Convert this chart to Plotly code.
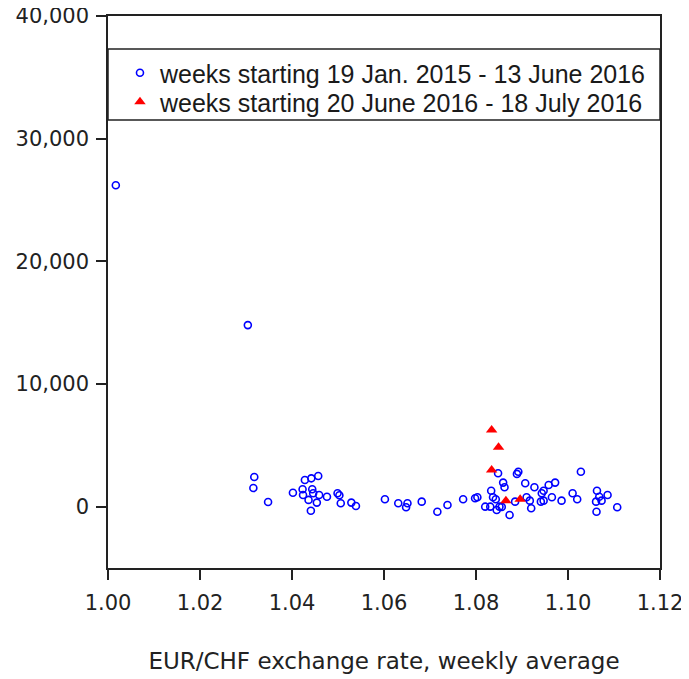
import plotly.graph_objects as go

# Blue series: weeks starting 19 Jan. 2015 - 13 June 2016
blue_x = [1.0017, 1.0304, 1.0318, 1.0316, 1.0348, 1.0402, 1.0428, 1.0442, 1.0457, 1.0423,
          1.0444, 1.0424, 1.0446, 1.0459, 1.0436, 1.0454, 1.0441, 1.0476, 1.0499, 1.0503,
          1.0506, 1.0529, 1.0539, 1.0602, 1.0631, 1.0651, 1.0648, 1.0682, 1.0716, 1.0738,
          1.0772, 1.0798, 1.0803, 1.0833, 1.0848, 1.0820, 1.0831, 1.0837, 1.0851, 1.0845,
          1.0859, 1.0862, 1.0892, 1.0889, 1.0907, 1.0927, 1.0910, 1.0917, 1.0920, 1.0873,
          1.0885, 1.0943, 1.0947, 1.0958, 1.0972, 1.0947, 1.0965, 1.0986, 1.1028, 1.1010,
          1.1020, 1.1063, 1.1068, 1.1061, 1.1073, 1.1086, 1.1062, 1.1107, 1.0843, 1.0856,
          1.0941]
blue_y = [26200, 14800, 2420, 1520, 380, 1140, 2180, 2310, 2500, 1420,
          1420, 950, 1090, 950, 550, 330, -330, 810, 1090, 930,
          280, 330, 60, 600, 280, 280, -50, 410, -410, 140,
          600, 690, 770, 1300, 2720, 0, 0, 770, 0, -270,
          1960, 1580, 2850, 2670, 1910, 1580, 770, 490, -130, -680,
          410, 1090, 1300, 1770, 1960, 490, 770, 490, 2850, 1090,
          600, 1300, 810, 410, 490, 950, -410, -50, 600, -20,
          410]

# Red series: weeks starting 20 June 2016 - 18 July 2016
red_x = [1.0834, 1.0849, 1.0834, 1.0865, 1.0896]
red_y = [6250, 4840, 2990, 490, 600]

blue_name = "weeks starting 19 Jan. 2015 - 13 June 2016"
red_name = "weeks starting 20 June 2016 - 18 July 2016"

x_ticks = [1.00, 1.02, 1.04, 1.06, 1.08, 1.10, 1.12]
x_ticklabels = ["1.00", "1.02", "1.04", "1.06", "1.08", "1.10", "1.12"]
y_ticks = [0, 10000, 20000, 30000, 40000]
y_ticklabels = ["0", "10,000", "20,000", "30,000", "40,000"]
x_title = "EUR/CHF exchange rate, weekly average"

fig = go.Figure()
fig.add_trace(go.Scatter(
    x=blue_x, y=blue_y, mode="markers", name=blue_name, legend="legend",
    marker=dict(symbol="circle-open", size=7, color="#0000ff", line=dict(width=1.6, color="#0000ff")),
))
fig.add_trace(go.Scatter(
    x=red_x, y=red_y, mode="markers", name=red_name, legend="legend2",
    marker=dict(symbol="triangle-up", size=10, color="#ff0000"),
))

font_main = "Liberation Sans, Arial, sans-serif"
font_tick = "DejaVu Sans, sans-serif"
legend_font = dict(family=font_main, size=25, color="#1a1a1a")

# page body adds an 8px offset; figure is sized to compensate
fig.update_layout(
    width=681, height=671,
    margin=dict(l=100, r=29, t=8, b=111, autoexpand=False),
    paper_bgcolor="white", plot_bgcolor="white",
    font=dict(family=font_main, size=20, color="#222222"),
    showlegend=True,
    legend=dict(
        x=0.0217, y=(568 - 73) / 552, xanchor="left", yanchor="middle",
        bgcolor="rgba(0,0,0,0)", borderwidth=0, font=legend_font,
    ),
    legend2=dict(
        x=0.0217, y=(568 - 102) / 552, xanchor="left", yanchor="middle",
        bgcolor="rgba(0,0,0,0)", borderwidth=0, font=legend_font,
    ),
    xaxis=dict(
        range=[1.0, 1.12], tickvals=x_ticks, ticktext=x_ticklabels,
        showgrid=False, zeroline=False, showline=True, mirror=True,
        linecolor="#222222", linewidth=1.5, automargin=False,
        ticks="outside", ticklen=10, tickwidth=1.5, tickcolor="#222222",
        ticklabelstandoff=5, ticklabeloverflow="allow",
        tickfont=dict(family=font_tick, size=21, color="#222222"),
        title=dict(text=x_title, font=dict(family=font_tick, size=23, color="#222222"), standoff=39),
    ),
    yaxis=dict(
        range=[-5000, 40000], tickvals=y_ticks, ticktext=y_ticklabels,
        showgrid=False, zeroline=False, showline=True, mirror=True,
        linecolor="#222222", linewidth=1.5, automargin=False,
        ticks="outside", ticklen=10, tickwidth=1.5, tickcolor="#222222",
        ticklabelstandoff=3, ticklabeloverflow="allow",
        tickfont=dict(family=font_tick, size=21, color="#222222"),
    ),
    shapes=[dict(
        type="rect", xref="paper", yref="paper",
        x0=0, x1=1, y0=(568 - 120) / 552, y1=(568 - 49) / 552,
        line=dict(color="#222222", width=1.5), fillcolor="rgba(0,0,0,0)", layer="above",
    )],
)

fig.write_html("out.html")
